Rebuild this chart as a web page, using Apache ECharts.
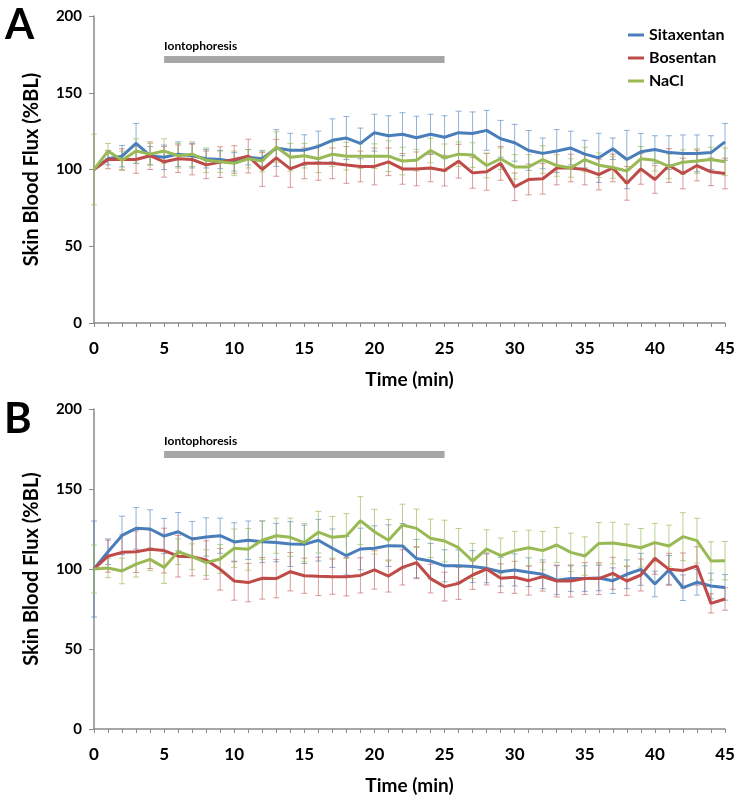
<!DOCTYPE html>
<html>
<head>
<meta charset="utf-8">
<script src="https://cdn.jsdelivr.net/npm/echarts@6/dist/echarts.min.js"></script>
<style>
  html, body { margin: 0; padding: 0; background: #fff; }
  #chart { width: 738px; height: 803px; }
</style>
</head>
<body>
<div id="chart"></div>
<script>
const minutes = [0,1,2,3,4,5,6,7,8,9,10,11,12,13,14,15,16,17,18,19,20,21,22,23,24,25,26,27,28,29,30,31,32,33,34,35,36,37,38,39,40,41,42,43,44,45];
const seriesNames = ['Sitaxentan', 'Bosentan', 'NaCl'];
const ionto = [5, 25];
const iontoLevel = 172;

// panel A
const sitaxA = [100,107,108.7,117,109,108,110,109,107,106.5,105,108,107,114,112.6,112.6,115,119,120.5,117,124,122,123,120.7,123,121,124,123.5,125.5,120,117.4,112.4,110.5,112,114,110,107.6,113.5,106.5,111.5,113,111,110.5,110.5,111,118];
const bosA = [100,106.5,106.5,106.5,109,105,107,106.5,103,104.8,106.5,108.7,100,107.6,100.4,104,104,104,103,102,102,105,100.4,100.4,101,99.3,105.4,97.8,98.5,104,88.7,93.5,94,101,101,100,96.7,101,91,100.4,93.5,102.6,97.4,102.6,98.5,97.4];
const naclA = [100,112,106,112,110,112,109,110,106,105,104,107,105.5,114.6,108,109,107,110,108.7,108.7,108.7,108.7,105.5,106,112.4,107.6,110,109.4,102.6,107,101.7,101.7,106.5,102.6,101,106.5,102.8,101.3,99,107,106,102,104.8,105.5,106.5,105];
const sitaxErrA = [0,4,7,13,6,8,8,8,6,6,6,5,5,12,11,10,10,14,14,10,12,13,14,14,13,14,14,14,13,12,12,13,10,14,11,9,16,7,19,12,9,11,12,12,11,12];
const bosErrA = [0,6,7,9,9,10,9,10,9,10,9,11,11,12,12,10,11,10,12,10,12,9,10,11,9,10,11,10,12,11,9,10,10,11,9,10,10,9,11,10,9,11,10,10,9,10];
const naclErrA = [23,5,6,8,7,8,8,8,8,7,8,6,7,10,9,8,9,8,9,8,8,10,9,7,8,9,8,8,8,7,8,8,9,7,6,8,8,7,8,8,7,8,8,8,8,9];

// panel B
const sitaxB = [100,110.8,121,125.4,125,120.6,123.3,118.75,120,120.8,116.9,118,117,116.5,115.6,115.4,118,113,108.3,112.5,113,114.6,114.4,106.5,105,102,102,101.5,100.4,98.3,99.4,98,96.7,93,94,94,94.4,92.7,96.7,99.8,90.6,99.4,88.3,91.7,89.4,88.5];
const bosB = [100,108,110.4,110.8,112.3,111.5,108,107.7,105.6,99.8,92.5,91.5,94.2,94,98.3,95.8,95.4,95.2,95.2,96,99.4,95.6,101,104,94,89,91,96.25,100,94.2,94.8,92.7,95.2,92.5,92.5,94,94,97.3,92.5,96.25,106.7,99.8,99,101.9,78.5,81.25];
const naclB = [100,100.6,98.75,103,106,101,110.8,107.7,104,106.25,113,112.3,118,120.8,119.8,116.5,123,119.8,120.6,130.2,123.3,118,127.5,125.4,119.2,117.5,113.3,105,112.5,108.3,111.5,113.3,111.5,115,110.4,108.1,116,116.25,115,113.3,116.5,114.4,120.2,117.7,105,105.2];
const sitaxErrB = [30,8,12,13,12,11,12,11,12,11,12,12,13,12,14,12,13,12,12,13,14,13,14,12,11,10,10,10,9,9,10,9,9,9,8,8,8,8,9,10,8,9,8,8,8,8];
const bosErrB = [0,10,11,13,12,14,13,12,12,13,12,12,13,12,12,11,12,11,12,11,12,10,11,10,9,9,10,9,10,9,10,9,9,10,10,10,10,10,9,10,10,10,11,12,6,7];
const naclErrB = [15,6,8,8,7,10,8,8,8,9,12,13,12,11,12,12,13,13,14,15,14,13,13,12,12,13,12,11,12,11,12,11,12,11,12,12,13,13,13,12,12,13,15,14,12,12];

const lineColors = ['#4a7ebb', '#be4b48', '#98b954'];
const errColors = ['rgba(74,126,187,0.6)', 'rgba(190,75,72,0.55)', 'rgba(152,185,84,0.65)'];
const FONT = 'Lato';

const panels = [
  { vals: [sitaxA, bosA, naclA], errs: [sitaxErrA, bosErrA, naclErrA] },
  { vals: [sitaxB, bosB, naclB], errs: [sitaxErrB, bosErrB, naclErrB] }
];

function renderErr(params, api) {
  const x = api.value(0), y = api.value(1), e = api.value(2);
  if (!e) return null;
  const hi = api.coord([x, y + e]);
  const lo = api.coord([x, y - e]);
  const w = 3;
  const style = { stroke: api.visual('color'), lineWidth: 1 };
  return {
    type: 'group',
    children: [
      { type: 'line', shape: { x1: hi[0], y1: hi[1], x2: lo[0], y2: lo[1] }, style },
      { type: 'line', shape: { x1: hi[0] - w, y1: hi[1], x2: hi[0] + w, y2: hi[1] }, style },
      { type: 'line', shape: { x1: lo[0] - w, y1: lo[1], x2: lo[0] + w, y2: lo[1] }, style }
    ]
  };
}

const grids = [
  { left: 94, right: 13, top: 16, height: 307 },
  { left: 94, right: 13, top: 409, height: 320 }
];

const xAxes = grids.map((g, i) => ({
  type: 'value', gridIndex: i, min: 0, max: 45, interval: 1,
  name: 'Time (min)', nameLocation: 'middle', nameGap: 47,
  nameTextStyle: { fontFamily: FONT, fontWeight: 'bold', fontSize: 19, color: '#000' },
  axisLine: { lineStyle: { color: '#8a8a8a', width: 1.5 } },
  axisTick: { length: 4, lineStyle: { color: '#8a8a8a' } },
  axisLabel: {
    margin: 17, fontFamily: FONT, fontWeight: 'bold', fontSize: 17, color: '#000',
    formatter: v => (v % 5 === 0 ? String(v) : '')
  },
  splitLine: { show: false }
}));

const yAxes = grids.map((g, i) => ({
  type: 'value', gridIndex: i, min: 0, max: 200, interval: 50,
  name: 'Skin Blood Flux (%BL)', nameLocation: 'middle', nameGap: 52, nameRotate: 90,
  nameTextStyle: { fontFamily: FONT, fontWeight: 'bold', fontSize: 20, color: '#000' },
  axisLine: { show: true, lineStyle: { color: '#8a8a8a', width: 1.5 } },
  axisTick: { show: true, length: 5, lineStyle: { color: '#8a8a8a' } },
  axisLabel: { margin: 12, fontFamily: FONT, fontWeight: 'bold', fontSize: 15, color: '#000' },
  splitLine: { show: false }
}));

const series = [];
panels.forEach((p, pi) => {
  p.vals.forEach((vals, si) => {
    series.push({
      name: seriesNames[si] + ' SEM', type: 'custom', xAxisIndex: pi, yAxisIndex: pi,
      renderItem: renderErr, silent: true, z: 1,
      itemStyle: { color: errColors[si] },
      encode: { x: 0, y: 1 },
      data: minutes.map((t, k) => [t, vals[k], p.errs[si][k]])
    });
  });
  p.vals.forEach((vals, si) => {
    const s = {
      name: seriesNames[si], type: 'line', xAxisIndex: pi, yAxisIndex: pi,
      showSymbol: false, symbol: 'none', z: 3,
      lineStyle: { color: lineColors[si], width: 3 },
      itemStyle: { color: lineColors[si] },
      data: minutes.map((t, k) => [t, vals[k]])
    };
    if (si === 0) {
      s.markLine = {
        silent: true, symbol: 'none', z: 2,
        lineStyle: { color: '#a6a6a6', width: 7, type: 'solid' },
        label: {
          show: true, position: 'insideStartTop', distance: [0, 7],
          formatter: 'Iontophoresis', fontFamily: FONT, fontWeight: 'bold', fontSize: 12, color: '#000'
        },
        data: [[{ coord: [ionto[0], iontoLevel] }, { coord: [ionto[1], iontoLevel] }]]
      };
    }
    series.push(s);
  });
});

const chart = echarts.init(document.getElementById('chart'));
chart.setOption({
  animation: false,
  backgroundColor: '#fff',
  grid: grids,
  xAxis: xAxes,
  yAxis: yAxes,
  legend: {
    data: seriesNames, orient: 'vertical', left: 623, top: 22,
    itemWidth: 16, itemHeight: 3, itemGap: 7, icon: 'rect',
    textStyle: { fontFamily: FONT, fontWeight: 'bold', fontSize: 16, color: '#000' }
  },
  graphic: [
    { type: 'text', left: 5, top: 4, style: { text: 'A', fontFamily: FONT, fontWeight: 'bold', fontSize: 42, fill: '#000' } },
    { type: 'text', left: 4, top: 398, style: { text: 'B', fontFamily: FONT, fontWeight: 'bold', fontSize: 42, fill: '#000' } }
  ],
  series: series
});
window.addEventListener('resize', () => chart.resize());
</script>
</body>
</html>
